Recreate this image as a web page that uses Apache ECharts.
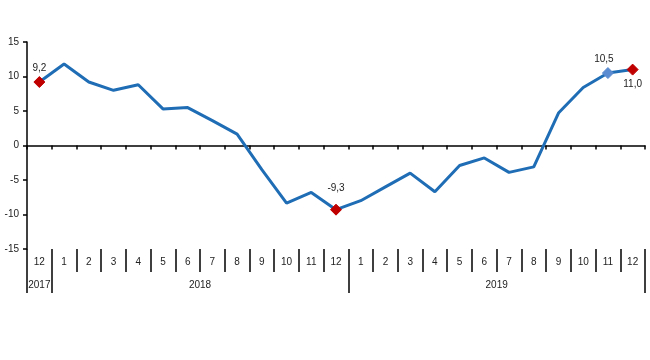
<!DOCTYPE html>
<html><head><meta charset="utf-8">
<script src="https://cdn.jsdelivr.net/npm/echarts@6/dist/echarts.min.js"></script>
<style>html,body{margin:0;padding:0;background:#fff}#c{width:650px;height:360px}</style>
</head><body><div id="c"></div>
<script>
const months = ['12','1','2','3','4','5','6','7','8','9','10','11','12','1','2','3','4','5','6','7','8','9','10','11','12'];
const values = [9.2,11.8,9.2,8.0,8.8,5.3,5.5,3.6,1.65,-3.5,-8.35,-6.8,-9.3,-8.0,-6.0,-4.0,-6.7,-2.9,-1.8,-3.9,-3.1,4.7,8.4,10.5,11.0];
const years = ['2017','2018','2019'];
const yearStarts = [0,1,13,25];
const yTicks = [-15,-10,-5,0,5,10,15];
const marked = {0:{c:'#c00000',pos:'top',d:3},12:{c:'#c00000',pos:'top',d:10},23:{c:'#5b8bd0',pos:'top',d:3},24:{c:'#c00000',pos:'bottom',d:4}};

const fmt = v => v.toFixed(1).replace('.', ',');
const seriesData = values.map((v,i) => {
  const m = marked[i];
  if (!m) return {value:v, symbol:'none'};
  return {value:v, symbol:'diamond', symbolSize:11,
    itemStyle:{color:m.c, borderColor:m.c},
    label:{show:true, position:m.pos, distance:m.d, offset: i===23?[-4,0]:[0,0], formatter:()=>fmt(v)}};
});
const yearLabelPos = years.map((y,i)=> (yearStarts[i]+yearStarts[i+1])/2);

const chart = echarts.init(document.getElementById('c'));
const txt = {color:'#222', fontFamily:'Liberation Sans, Arial, sans-serif', fontSize:10};
chart.setOption({
  animation:false,
  grid:{left:27, right:5, top:42, bottom:111, containLabel:false},
  xAxis:[
    {type:'category', data:months, boundaryGap:true, position:'bottom',
     axisLine:{onZero:true, lineStyle:{color:'#000', width:1.5}},
     axisTick:{show:true, interval:0, length:4, lineStyle:{color:'#000', width:1.5}},
     axisLabel:{show:false}, splitLine:{show:false}},
    {type:'category', data:months, boundaryGap:true, position:'bottom',
     axisLine:{show:false, onZero:false},
     axisTick:{show:true, interval:0, length:23, lineStyle:{color:'#000', width:1.5}},
     axisLabel:Object.assign({interval:0, margin:8}, txt), splitLine:{show:false}},
    {type:'value', min:0, max:25, position:'bottom',
     axisLine:{show:false, onZero:false},
     axisTick:{show:true, customValues:yearStarts, length:44, lineStyle:{color:'#000', width:1.5}},
     axisLabel:Object.assign({customValues:yearLabelPos, margin:31,
       formatter:(v)=>{const k=yearLabelPos.indexOf(v); return k>=0?years[k]:'';}}, txt),
     splitLine:{show:false}}
  ],
  yAxis:{type:'value', min:-15, max:15, interval:5,
    axisLine:{show:true, lineStyle:{color:'#000', width:1.5}},
    axisTick:{show:true, length:4, lineStyle:{color:'#000', width:1.5}},
    axisLabel:Object.assign({margin:8, customValues:yTicks}, txt),
    splitLine:{show:false}},
  series:[{type:'line', xAxisIndex:0, data:seriesData, showSymbol:true,
    lineStyle:{color:'#1f6db5', width:3}, itemStyle:{color:'#1f6db5'},
    label:Object.assign({}, txt), z:3}]
});
</script></body></html>
